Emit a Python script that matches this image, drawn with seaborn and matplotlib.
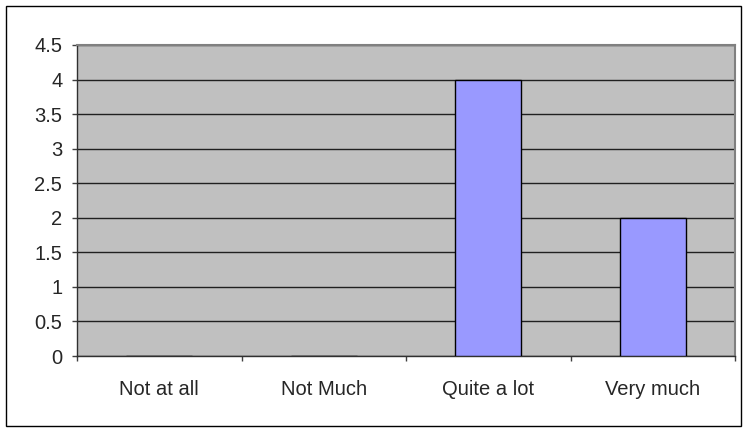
import matplotlib
matplotlib.use("Agg")
import matplotlib.pyplot as plt
import seaborn as sns
import pandas as pd
from matplotlib.patches import Rectangle
from matplotlib.ticker import MultipleLocator, FixedLocator

categories = ["Not at all", "Not Much", "Quite a lot", "Very much"]
values = [0, 0, 4, 2]

df = pd.DataFrame({"category": categories, "value": values})

sns.set_style("white")
plt.rcParams['font.family'] = ['Liberation Sans', 'DejaVu Sans']

W, H = 744, 428
fig = plt.figure(figsize=(W / 100, H / 100), dpi=100)
ax = fig.add_axes([77 / W, 1 - 356 / H, (735 - 77) / W, (356 - 45) / H])
ax.set_facecolor("#C0C0C0")

sns.barplot(data=df, x="category", y="value", color="#9999FF", width=0.4,
            edgecolor="black", linewidth=1, saturation=1, ax=ax, zorder=3)

ax.set_xlim(-0.5, 3.5)
ax.set_ylim(0, 4.5)
ax.yaxis.set_major_locator(MultipleLocator(0.5))
ax.set_yticklabels([f"{v:g}" for v in ax.get_yticks()])
ax.yaxis.grid(True, color="#202020", linewidth=1)
ax.set_axisbelow(True)

# category boundary ticks like Excel
ax.xaxis.set_minor_locator(FixedLocator([-0.5, 0.5, 1.5, 2.5, 3.5]))
ax.tick_params(bottom=True, left=True, which="both")
ax.tick_params(axis="x", which="minor", length=3.6, width=1, color="#404040", direction="out")
ax.tick_params(axis="x", which="major", length=0, pad=17, labelsize=14.5)
ax.tick_params(axis="y", which="major", length=3.6, width=1, color="#404040", direction="out",
               pad=7, labelsize=14.5)

ax.set_xlabel("")
ax.set_ylabel("")
for side in ["left", "bottom"]:
    ax.spines[side].set_color("#303030")
    ax.spines[side].set_linewidth(1)
for side in ["top", "right"]:
    ax.spines[side].set_color("#808080")
    ax.spines[side].set_linewidth(1.5)

# outer chart border
fig.patches.append(Rectangle((6.5 / W, 1 - 425.5 / H), (741 - 6.5) / W, (425.5 - 5.5) / H,
                             transform=fig.transFigure, fill=False,
                             edgecolor="black", linewidth=1))

fig.savefig("out.png", dpi=100)
